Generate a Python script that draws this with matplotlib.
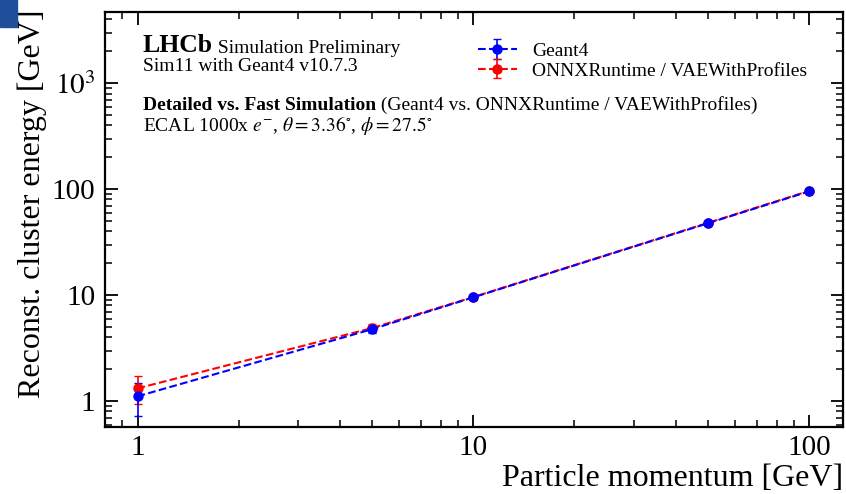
import numpy as np
import matplotlib
matplotlib.use('Agg')
import matplotlib.pyplot as plt
import matplotlib.patches as mpatches

# mpl setup
plt.rcParams['font.family'] = 'Liberation Serif'
plt.rcParams['mathtext.fontset'] = 'stix'
plt.rcParams['axes.linewidth'] = 1.6

# data
momentum = [1, 5, 10, 50, 100]
geant4 = [1.11, 4.78, 9.55, 47.8, 95.5]
geant4_err = [0.38, 0.35, 0.5, 1.8, 3.5]
onnx = [1.32, 4.9, 9.6, 48.2, 96.5]
onnx_err = [0.39, 0.4, 0.5, 1.8, 3.5]
ytick_vals = [1, 10, 100, 1000]
ytick_labels = ['1', '10', '100', '$10^3$']
xtick_vals = [1, 10, 100]
xtick_labels = ['1', '10', '100']

fig = plt.figure(figsize=(8.46, 4.94), dpi=100)
ax = fig.add_axes([0.1241, 0.1356, 0.8723, 0.840])

# blue corner mark
fig.patches.append(mpatches.Rectangle((0, 1 - 27 / 494), 17 / 846, 27 / 494,
                                      transform=fig.transFigure,
                                      color='#1f4f9a', zorder=10))

h_onnx = ax.errorbar(momentum, onnx, yerr=onnx_err, color='red', ls='--',
                     marker='o', ms=6.5, capsize=3, lw=1.5, elinewidth=1.2)
h_g4 = ax.errorbar(momentum, geant4, yerr=geant4_err, color='blue', ls='--',
                   marker='o', ms=6.5, capsize=3, lw=1.5, elinewidth=1.2)

ax.set_xscale('log')
ax.set_yscale('log')
ax.set_xlim(0.8, 126)
ax.set_ylim(0.57, 4700)

ax.set_xticks(xtick_vals)
ax.set_xticklabels(xtick_labels)
ax.set_yticks(ytick_vals)
ax.set_yticklabels(ytick_labels)
ax.tick_params(which='both', direction='in', top=True, right=True)
ax.tick_params(which='major', length=9, width=1.3, labelsize=21)
ax.tick_params(which='minor', length=5, width=1.1)
ax.tick_params(axis='x', which='major', pad=6)
ax.tick_params(axis='y', which='major', pad=7)

ax.set_xlabel('Particle momentum [GeV]', fontsize=23, loc='right')
ax.xaxis.set_label_coords(1.0, -0.088)
ax.set_ylabel('Reconst. cluster energy [GeV]', fontsize=23, loc='top')
ax.yaxis.set_label_coords(-0.078, 1.005)

# text block
t1 = ax.text(0.0515, 0.904, 'LHCb', transform=ax.transAxes,
             fontsize=18.5, fontweight='bold', va='baseline')
ax.annotate(' Simulation Preliminary', xy=(1, 0), xycoords=t1,
            fontsize=14, va='bottom')
ax.text(0.0515, 0.857, 'Sim11 with Geant4 v10.7.3', transform=ax.transAxes,
        fontsize=14, va='baseline')
t2 = ax.text(0.0515, 0.764, 'Detailed vs. Fast Simulation', transform=ax.transAxes,
             fontsize=14, fontweight='bold', va='baseline')
ax.annotate(' (Geant4 vs. ONNXRuntime / VAEWithProfiles)', xy=(1, 0), xycoords=t2,
            fontsize=14, va='bottom')
ax.text(0.0515, 0.714,
        r'ECAL 1000x $e^{-}$, $\theta = 3.36^{\circ}$, $\phi = 27.5^{\circ}$',
        transform=ax.transAxes, fontsize=14, va='baseline')

ax.legend([h_g4, h_onnx], ['Geant4', 'ONNXRuntime / VAEWithProfiles'],
          loc='upper left', bbox_to_anchor=(0.5054, 0.927), frameon=False,
          fontsize=14, handlelength=2.0, handletextpad=0.8, labelspacing=0.1,
          borderpad=0, borderaxespad=0)

fig.savefig('out.png', dpi=100)
